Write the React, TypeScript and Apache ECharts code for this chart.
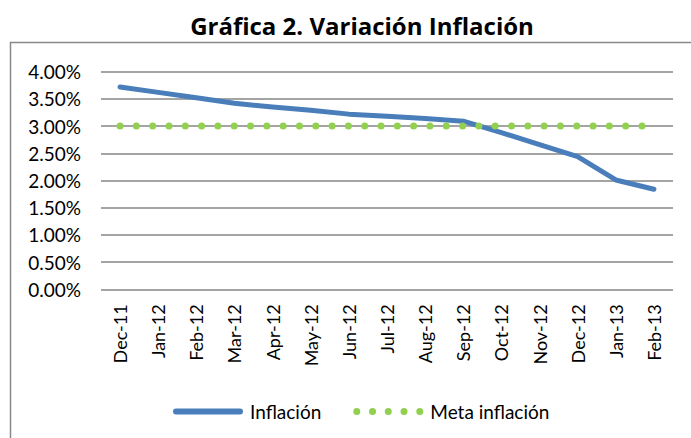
import React, { useEffect, useRef } from "react";
import * as echarts from "echarts";

const categories = ["Dec-11", "Jan-12", "Feb-12", "Mar-12", "Apr-12", "May-12", "Jun-12", "Jul-12", "Aug-12", "Sep-12", "Oct-12", "Nov-12", "Dec-12", "Jan-13", "Feb-13"];
const inflacion = [3.72, 3.62, 3.52, 3.42, 3.35, 3.29, 3.22, 3.18, 3.14, 3.09, 2.88, 2.66, 2.44, 2.01, 1.84];
const meta = [3.0, 3.0, 3.0, 3.0, 3.0, 3.0, 3.0, 3.0, 3.0, 3.0, 3.0, 3.0, 3.0, 3.0, 3.0];
const titleText = "Gráfica 2. Variación Inflación";
const seriesNames = ["Inflación", "Meta inflación"];

const FONT = "Lato";

export default function App() {
  const ref = useRef<HTMLDivElement>(null);
  useEffect(() => {
    if (!ref.current) return;
    const chart = echarts.init(ref.current, undefined, { renderer: "svg" });
    const dotsIcon =
      "path://" +
      [3.5, 19.25, 35, 50.75, 66.5]
        .map((c) => `M${c - 3.5},3.5 a3.5,3.5 0 1,0 7,0 a3.5,3.5 0 1,0 -7,0 Z`)
        .join(" ");
    const barIcon = "path://M3,0.5 H67 A3,3 0 0 1 67,6.5 H3 A3,3 0 0 1 3,0.5 Z";
    chart.setOption({
      animation: false,
      backgroundColor: "#ffffff",
      title: {
        text: titleText,
        left: 357,
        textAlign: "center",
        top: 8,
        textStyle: { fontFamily: "Open Sans", fontWeight: "bold", fontSize: 24, color: "#000000" },
      },
      graphic: [
        {
          type: "rect",
          shape: { x: 10.5, y: 42.5, width: 700, height: 420 },
          style: { fill: "none", stroke: "#898989", lineWidth: 1.5 },
          silent: true,
        },
      ],
      legend: {
        left: 168,
        top: 397,
        itemWidth: 70,
        itemHeight: 7,
        itemGap: 32,
        textStyle: { fontFamily: FONT, fontSize: 19, color: "#000000", padding: [0, 0, 0, 2] },
        data: [
          { name: seriesNames[0], icon: barIcon, itemStyle: { color: "#4a7ebb" } },
          { name: seriesNames[1], icon: dotsIcon, itemStyle: { color: "#92d050" } },
        ],
      },
      grid: { left: 101, right: 18, top: 71.7, bottom: 148.7, containLabel: false },
      xAxis: {
        type: "category",
        data: categories,
        boundaryGap: true,
        axisLine: { show: false },
        axisTick: { show: false },
        axisLabel: { rotate: 90, margin: 15, fontFamily: FONT, fontSize: 18, color: "#000000", interval: 0 },
      },
      yAxis: {
        type: "value",
        min: 0,
        max: 4,
        interval: 0.5,
        axisLine: { show: false },
        axisTick: { show: false },
        splitLine: { lineStyle: { color: "#868686", width: 1.5 } },
        axisLabel: {
          margin: 20,
          fontFamily: FONT,
          fontSize: 19,
          color: "#000000",
          formatter: (v: number) => v.toFixed(2) + "%",
        },
      },
      series: [
        {
          name: seriesNames[0],
          type: "line",
          data: inflacion,
          showSymbol: false,
          lineStyle: { color: "#4a7ebb", width: 5, cap: "round", join: "round" },
          itemStyle: { color: "#4a7ebb" },
          z: 3,
        },
        {
          name: seriesNames[1],
          type: "line",
          data: meta,
          showSymbol: false,
          lineStyle: { color: "#92d050", width: 7, type: [0.01, 16.3], cap: "round" },
          itemStyle: { color: "#92d050" },
          z: 4,
        },
      ],
    });
    return () => chart.dispose();
  }, []);
  return <div ref={ref} style={{ width: 691, height: 438, position: "absolute", left: 0, top: 0 }} />;
}
